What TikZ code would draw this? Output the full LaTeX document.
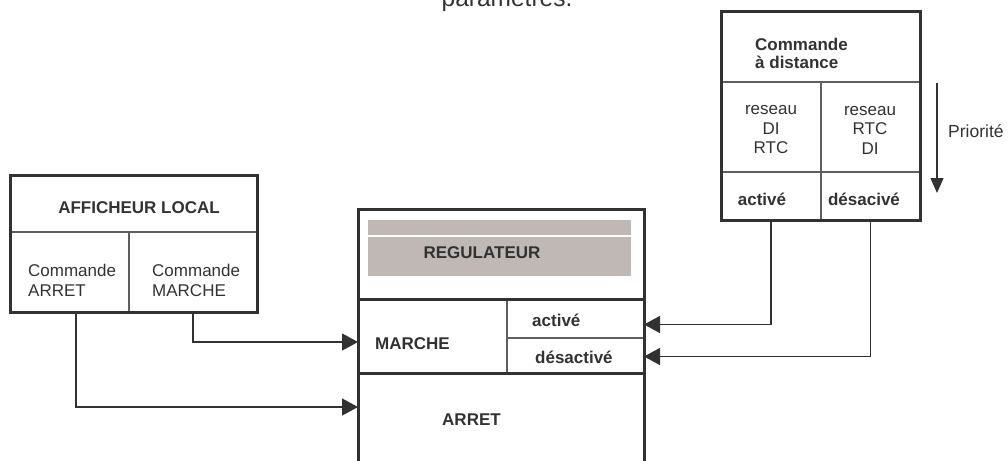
\documentclass[tikz,border=0pt]{standalone}
\usepackage{fontspec}
\setmainfont{Liberation Sans}
\usetikzlibrary{arrows.meta}
\definecolor{linea}{RGB}{50,50,50}
\definecolor{lineafine}{RGB}{95,95,95}
\definecolor{grigio}{RGB}{192,184,181}
\tikzset{
    cella/.style={draw=lineafine, line width=1.3pt, inner sep=0pt, outer sep=0pt, anchor=north west},
    cornice/.style={draw=linea, line width=3pt},
    testo/.style={text=linea, inner sep=0pt, font=\fontsize{17}{20}\selectfont},
    grassetto/.style={text=linea, inner sep=0pt, font=\fontsize{17}{20}\selectfont\bfseries},
    freccia/.style={draw=linea, line width=1.5pt, -{Triangle[length=16pt,width=17pt]}},
}
\begin{document}
\begin{tikzpicture}[x=1pt,y=-1pt]
        \useasboundingbox (0,0) rectangle (1008,460);
        \clip (0,0) rectangle (1008,460);
        %testo tagliato in alto
        \node[testo, font=\fontsize{24.5}{28}\selectfont, anchor=base] (param) at (507,6.5) {paramètres.};
        %disegno afficheur locale
        \node[cella, minimum width=247pt, minimum height=57pt] (afftitolo) at (10,175) {};
        \node[cella, minimum width=119pt, minimum height=80pt] (cmdarresto) at (10,232) {};
        \node[cella, minimum width=128pt, minimum height=80pt] (cmdmarcia) at (129,232) {};
        \draw[cornice] (afftitolo.north west) rectangle (cmdmarcia.south east);
        \node[grassetto] (taff) at (139,208) {AFFICHEUR LOCAL};
        \node[testo, align=left, anchor=west] (tarresto) at (28,280) {Commande\\ARRET};
        \node[testo, align=left, anchor=west] (tmarcia) at (152,280) {Commande\\MARCHE};
        %disegno comando a distanza
        \node[cella, minimum width=199pt, minimum height=70pt] (distanza) at (721,12) {};
        \node[cella, minimum width=100pt, minimum height=90pt] (rete1) at (721,82) {};
        \node[cella, minimum width=99pt, minimum height=90pt] (rete2) at (821,82) {};
        \node[cella, minimum width=100pt, minimum height=48pt] (attivato) at (721,172) {};
        \node[cella, minimum width=99pt, minimum height=48pt] (disattivato) at (821,172) {};
        \draw[cornice] (distanza.north west) rectangle (disattivato.south east);
        \node[grassetto, align=left, anchor=west, font=\fontsize{17}{18}\selectfont\bfseries] (tdistanza) at (755,53) {Commande\\à distance};
        \node[testo, align=center, font=\fontsize{17}{19.5}\selectfont] (trete1) at (771,130) {reseau\\DI\\RTC};
        \node[testo, align=center, font=\fontsize{17}{19.5}\selectfont] (trete2) at (870,130) {reseau\\RTC\\DI};
        \node[grassetto] (tattivato) at (762,199) {activé};
        \node[grassetto] (tdisattivato) at (864,199) {désacivé};
        %disegno priorita
        \coordinate (priosu) at (937,83);
        \coordinate (priogiu) at (937,193);
        \draw[draw=linea, line width=1.3pt, -{Triangle[length=15pt,width=13pt]}] (priosu) -- (priogiu);
        \node[testo, anchor=west, font=\fontsize{17.5}{20}\selectfont] (tprio) at (948,131) {Priorité};
        %disegno regolatore
        \node[cella, minimum width=286pt, minimum height=90pt] (regolatore) at (358,209) {};
        \node[cella, minimum width=149pt, minimum height=74pt] (marcia) at (358,299) {};
        \node[cella, minimum width=137pt, minimum height=39pt] (attivo) at (507,299) {};
        \node[cella, minimum width=137pt, minimum height=35pt] (disattivo) at (507,338) {};
        \node[cella, minimum width=286pt, minimum height=110pt] (arresto) at (358,373) {};
        \draw[cornice] (regolatore.north west) rectangle (arresto.south east);
        \draw[cornice] (marcia.north west) -- (attivo.north east);
        \draw[cornice] (marcia.south west) -- (disattivo.south east);
        \fill[grigio] (368,220) rectangle (631,235);
        \fill[grigio] (368,237) rectangle (631,276);
        \node[grassetto] (treg) at (482,253) {REGULATEUR};
        \node[grassetto, anchor=west] (tmarcia2) at (375,344) {MARCHE};
        \node[grassetto, anchor=west] (tattivo) at (532,320) {activé};
        \node[grassetto, anchor=west] (tdisattivo) at (535,357) {désactivé};
        \node[grassetto, anchor=west] (tarresto2) at (442,420) {ARRET};
        %disegno frecce
        \coordinate (uscitaarresto) at (76,312);
        \draw[freccia] (cmdmarcia.south) |- ([yshift=-6pt]marcia.west);
        \draw[freccia] (uscitaarresto) |- ([yshift=-34pt]arresto.north west);
        \draw[freccia] (attivato.south) |- ([yshift=-6pt]attivo.east);
        \draw[freccia] (disattivato.south) |- ([yshift=-1pt]disattivo.east);
\end{tikzpicture}
\end{document}
